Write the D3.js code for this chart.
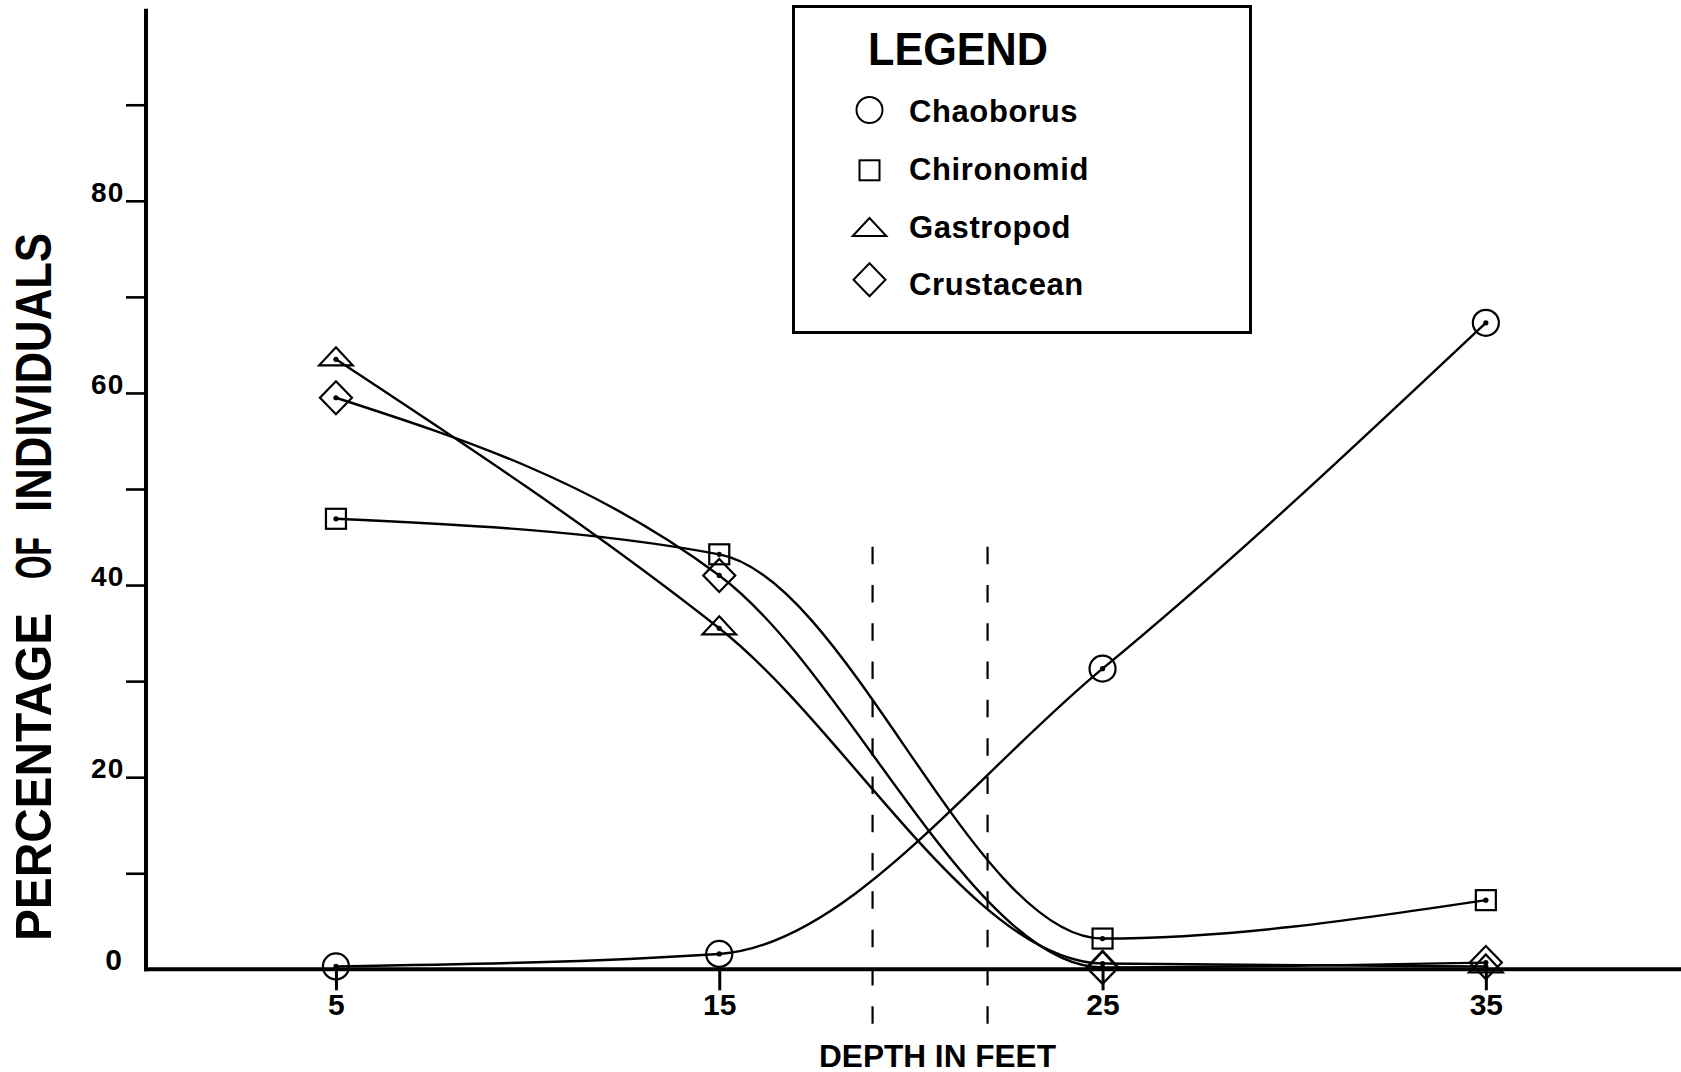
<!DOCTYPE html>
<html>
<head>
<meta charset="utf-8">
<script src="https://cdn.jsdelivr.net/npm/d3@7"></script>
<style>
  html, body { margin: 0; padding: 0; background: #fff; }
  svg { display: block; }
  text { font-family: "Liberation Sans", Arial, Helvetica, sans-serif; font-weight: bold; fill: #000; }
</style>
</head>
<body>
<svg id="chart" width="1681" height="1072"></svg>
<script>
// ---- data ----
const depths = [5, 15, 25, 35];                 // depth in feet
const chaoborus  = [0.3, 1.6, 31.3, 67.3];      // % of individuals
const chironomid = [46.9, 43.2, 3.2, 7.2];
const gastropod  = [63.5, 35.5, 0.6, 0.3];
const crustacean = [59.5, 41.0, 0.2, 0.7];
const seriesNames = ["Chaoborus", "Chironomid", "Gastropod", "Crustacean"];
const yTickValues = [10, 20, 30, 40, 50, 60, 70, 80, 90];
const yLabelValues = [0, 20, 40, 60, 80];
const xTickValues = [5, 15, 25, 35];
const boundaryDepths = [19, 22];   // dashed vertical markers
const boundaryTop = 44;            // value where the dashed markers start
const yTitleWords = ["PERCENTAGE", "OF", "INDIVIDUALS"];

const seriesValues = [chaoborus, chironomid, gastropod, crustacean];

// ---- layout ----
const svg = d3.select("#chart");
const x = d3.scaleLinear().domain([0, 40]).range([144.3, 1677.5]);
const y = d3.scaleLinear().domain([0, 100]).range([969.3, 8.7]);
const axisX = 146;

// marker shapes (relative to centre)
const shapes = {
  Chaoborus: g => g.append("circle").attr("r", 13),
  Chironomid: g => g.append("rect").attr("x", -10).attr("y", -10).attr("width", 20).attr("height", 20),
  Gastropod: g => g.append("path").attr("d", "M0,-12L16.8,6L-16.8,6Z"),
  Crustacean: g => g.append("path").attr("d", "M0,-16.5L16,0L0,16.5L-16,0Z")
};

// ---- dashed boundary lines ----
svg.append("g").selectAll("line").data(boundaryDepths).join("line")
  .attr("x1", d => x(d)).attr("x2", d => x(d))
  .attr("y1", y(boundaryTop)).attr("y2", y(0) + 60)
  .attr("stroke", "#000").attr("stroke-width", 2.2)
  .attr("stroke-dasharray", "17.5,20.8");

// ---- y axis ----
const yAxis = svg.append("g").attr("transform", `translate(${axisX},0)`)
  .call(d3.axisLeft(y).tickValues(yTickValues).tickSize(20).tickSizeOuter(0).tickFormat(""));
yAxis.select(".domain").attr("stroke-width", 4).attr("d", `M0,${y(0) + 2}V${y(100)}`);
yAxis.selectAll(".tick line").attr("stroke-width", 2.6);

svg.append("g").selectAll("text").data(yLabelValues).join("text")
  .attr("x", d => d === 0 ? 122 : 124.5)
  .attr("y", d => y(d) + 1)
  .attr("text-anchor", "end")
  .attr("font-size", d => d === 0 ? 30 : 28)
  .attr("letter-spacing", d => d === 0 ? 0 : 1.2)
  .text(d => d);

// ---- x axis ----
const xAxis = svg.append("g").attr("transform", `translate(0,${y(0)})`)
  .call(d3.axisBottom(x).tickValues(xTickValues).tickSize(21).tickSizeOuter(0));
xAxis.select(".domain").remove();
xAxis.selectAll(".tick line").attr("stroke-width", 3);
xAxis.selectAll(".tick text")
  .attr("y", 45.5).attr("dy", 0)
  .attr("font-size", 30)
  .attr("font-family", "'Liberation Sans', Arial, sans-serif")
  .attr("font-weight", "bold")
  .attr("fill", "#000");
svg.append("line")
  .attr("x1", axisX - 2).attr("x2", 1681)
  .attr("y1", y(0)).attr("y2", y(0))
  .attr("stroke", "#000").attr("stroke-width", 4);

// ---- curves ----
const line = d3.line()
  .x((d, i) => x(depths[i]))
  .y(d => y(d))
  .curve(d3.curveMonotoneX);

svg.append("g").selectAll("path").data(seriesValues).join("path")
  .attr("d", d => line(d))
  .attr("fill", "none").attr("stroke", "#000").attr("stroke-width", 2.4);

// ---- markers ----
seriesNames.forEach((name, si) => {
  const g = svg.append("g").attr("class", "markers-" + name);
  seriesValues[si].forEach((v, i) => {
    const m = g.append("g").attr("transform", `translate(${x(depths[i])},${y(v)})`);
    shapes[name](m).attr("fill", "none").attr("stroke", "#000").attr("stroke-width", 2.2);
    m.append("circle").attr("r", 2.6).attr("fill", "#000");
  });
});

// ---- axis titles ----
// words placed along the rotated baseline: [start (screen y), length]
const yTitleSpans = [[941, 328], [579, 42], [512, 279]];
const yt = svg.append("text")
  .attr("transform", "translate(50.5,0) rotate(-90)")
  .attr("font-size", 50);
yTitleWords.forEach((w, i) => {
  if (i > 0) yt.node().appendChild(document.createTextNode(" "));
  yt.append("tspan")
    .attr("x", -yTitleSpans[i][0]).attr("y", 0)
    .attr("textLength", yTitleSpans[i][1]).attr("lengthAdjust", "spacingAndGlyphs")
    .text(w);
});

svg.append("text")
  .attr("x", 819).attr("y", 1066.5)
  .attr("font-size", 32)
  .attr("textLength", 237).attr("lengthAdjust", "spacingAndGlyphs")
  .text("DEPTH IN FEET");

// ---- legend ----
const legend = svg.append("g");
legend.append("rect")
  .attr("x", 793.5).attr("y", 6.5).attr("width", 457).attr("height", 326)
  .attr("fill", "#fff").attr("stroke", "#000").attr("stroke-width", 3);
legend.append("text")
  .attr("x", 868).attr("y", 65)
  .attr("font-size", 46)
  .attr("textLength", 180).attr("lengthAdjust", "spacingAndGlyphs")
  .text("LEGEND");
const legendSymbolY = [110, 170.3, 230, 279.7];
const legendTextY = [122, 180, 237.5, 295];
seriesNames.forEach((name, i) => {
  const m = legend.append("g").attr("transform", `translate(869.5,${legendSymbolY[i]})`);
  shapes[name](m).attr("fill", "none").attr("stroke", "#000").attr("stroke-width", 2);
  legend.append("text")
    .attr("x", 909).attr("y", legendTextY[i])
    .attr("font-size", 31)
    .attr("letter-spacing", 0.6)
    .text(name);
});
</script>
</body>
</html>
